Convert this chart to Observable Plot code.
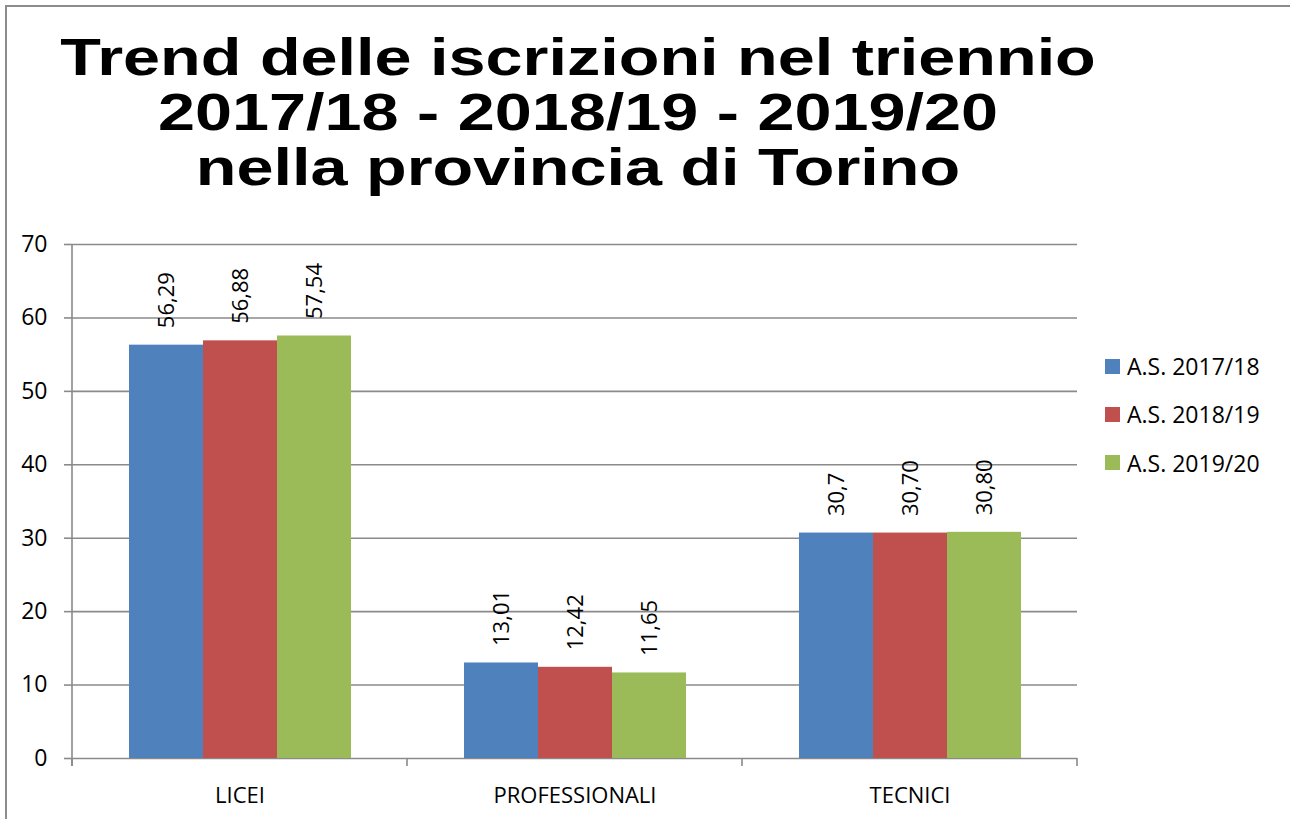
<!DOCTYPE html>
<html>
<head>
<meta charset="utf-8">
<script src="https://cdn.jsdelivr.net/npm/d3@7"></script>
<script src="https://cdn.jsdelivr.net/npm/@observablehq/plot@0.6"></script>
<style>
  html, body { margin: 0; padding: 0; background: #fff; }
  #page { position: relative; width: 1290px; height: 819px; overflow: hidden; background: #fff; }
  #border { position: absolute; left: 5px; top: 5px; width: 1300px; height: 830px;
            border-top: 2px solid #8c8c8c; border-left: 2px solid #8c8c8c; z-index: 2; pointer-events: none; }
  #title { position: absolute; left: 0; top: 30px; width: 1156px; text-align: center;
           font-family: "Liberation Sans", Arial, sans-serif; font-weight: bold; font-size: 52px;
           line-height: 55px; color: #000; transform: scaleX(1.28); transform-origin: 578px 0; }
  #chart { position: absolute; left: 0; top: 210px; }
  #legend { position: absolute; left: 1105px; top: 342px; font-family: "Open Sans", sans-serif;
            font-size: 23px; color: #000; }
  .row { display: flex; align-items: center; height: 48.3px; }
  .sw { width: 15px; height: 15px; margin-right: 7px; }
</style>
</head>
<body>
<div id="page">
  <div id="title"></div>
  <div id="chart"></div>
  <div id="legend"></div>
  <div id="border"></div>
</div>
<script>
const titleLines = ["Trend delle iscrizioni nel triennio", "2017/18 - 2018/19 - 2019/20", "nella provincia di Torino"];
const categories = ["LICEI", "PROFESSIONALI", "TECNICI"];
const seriesNames = ["A.S. 2017/18", "A.S. 2018/19", "A.S. 2019/20"];
const colors = ["#4F81BD", "#C0504D", "#9BBB59"];
const values2017 = [56.29, 13.01, 30.7];
const values2018 = [56.88, 12.42, 30.70];
const values2019 = [57.54, 11.65, 30.80];
const labels2017 = ["56,29", "13,01", "30,7"];
const labels2018 = ["56,88", "12,42", "30,70"];
const labels2019 = ["57,54", "11,65", "30,80"];
const yTicks = [0, 10, 20, 30, 40, 50, 60, 70];

document.getElementById("title").innerHTML = titleLines.map(t => `<div>${t}</div>`).join("");

const allValues = [values2017, values2018, values2019];
const allLabels = [labels2017, labels2018, labels2019];
const data = [];
categories.forEach((c, ci) => {
  seriesNames.forEach((s, si) => {
    data.push({category: c, series: s, value: allValues[si][ci], label: allLabels[si][ci]});
  });
});

const gray = "#8a8a8a";
const fig = Plot.plot({
  width: 1290,
  height: 609,
  marginTop: 34,
  marginBottom: 61,
  marginLeft: 71,
  marginRight: 213,
  style: {fontFamily: "'Open Sans', sans-serif", fontSize: "22px", color: "#000", background: "transparent"},
  fx: {domain: categories, padding: 0, label: null},
  x: {domain: seriesNames, paddingInner: 0, paddingOuter: 0.75, axis: null},
  y: {domain: [0, 70], label: null},
  color: {domain: seriesNames, range: colors},
  marks: [
    Plot.gridY(yTicks, {stroke: gray, strokeOpacity: 1, strokeWidth: 1.6}),
    Plot.barY(data, {fx: "category", x: "series", y: "value", fill: "series"}),
    Plot.text(data, {fx: "category", x: "series", y: "value", text: "label", rotate: -90,
                     textAnchor: "start", dy: -17, fontSize: 22, fill: "#000"}),
    Plot.axisY(yTicks, {tickSize: 8, tickPadding: 17, stroke: gray, strokeWidth: 1.6,
                        fontSize: 23, fill: "#000", label: null}),
    Plot.axisFx({anchor: "bottom", tickSize: 0, tickPadding: 29, fontSize: 22, fill: "#000", label: null})
  ]
});
document.getElementById("chart").appendChild(fig);

// category boundary ticks and left axis line, positioned with Plot's own scales
const fx = fig.scale("fx");
const y = fig.scale("y");
const bounds = fx.domain.map(d => fx.apply(d));
bounds.push(fx.apply(fx.domain[fx.domain.length - 1]) + fx.bandwidth);
const svg = d3.select(fig);
const y0 = y.apply(0), yTop = y.apply(70);
const g = svg.append("g").attr("stroke", gray).attr("stroke-width", 1.6);
g.append("line").attr("x1", bounds[0]).attr("x2", bounds[0]).attr("y1", yTop).attr("y2", y0 + 8);
bounds.forEach(b => {
  g.append("line").attr("x1", b).attr("x2", b).attr("y1", y0).attr("y2", y0 + 8);
});

// legend
document.getElementById("legend").innerHTML = seriesNames.map((s, i) =>
  `<div class="row"><div class="sw" style="background:${colors[i]}"></div><span>${s}</span></div>`).join("");
</script>
</body>
</html>
